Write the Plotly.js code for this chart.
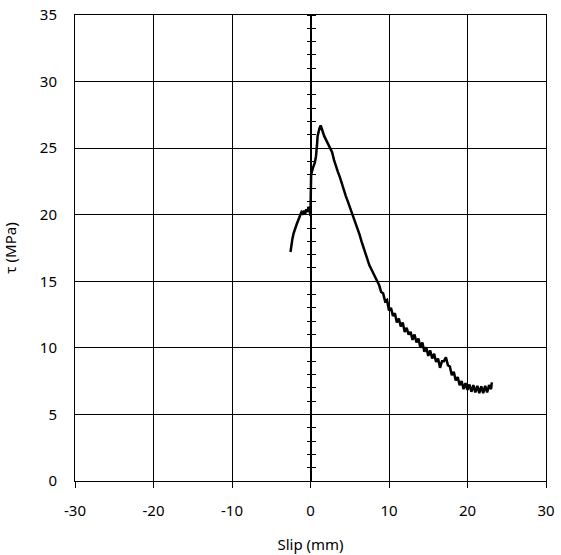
<!DOCTYPE html>
<html>
<head>
<meta charset="utf-8">
<script src="https://cdn.plot.ly/plotly-3.0.1.min.js"></script>
<style>html,body{margin:0;padding:0;background:#fff;}#chart{width:561px;height:555px;}</style>
</head>
<body>
<div id="chart"></div>
<script>
// Slip (mm) and bond stress tau (MPa)
const slip = [
  -2.55,-2.45,-2.3,-2.15,-1.95,-1.75,-1.55,-1.35,-1.15,-1.0,-0.85,-0.7,-0.55,-0.4,-0.25,-0.1,0.0,
  0.02,0.04,0.08,0.3,0.55,0.7,0.8,0.85,0.9,1.0,1.15,1.3,1.4,1.5,
  1.75,2.0,2.25,2.5,2.75,3.0,3.25,3.5,3.75,4.0,4.25,4.5,4.75,5.0,5.25,5.5,5.75,6.0,6.25,6.5,6.75,
  7.0,7.25,7.5,7.75,8.0,8.25,8.5,8.75,9.0,9.25,9.5,9.75,10.0,10.25,10.5,10.75,11.0,11.25,11.5,11.75,
  12.0,12.25,12.5,12.75,13.0,13.25,13.5,13.75,14.0,14.25,14.5,14.75,15.0,15.25,15.5,15.75,16.0,16.25,
  16.5,16.75,17.0,17.25,17.5,17.75,18.0,18.25,18.5,18.75,19.0,19.25,19.5,19.75,20.0,20.25,20.5,20.75,
  21.0,21.25,21.5,21.75,22.0,22.25,22.5,22.75,23.0,23.1
];
const tau = [
  17.2,17.7,18.2,18.6,19.0,19.3,19.6,19.9,20.2,20.1,20.3,20.0,20.4,20.2,20.6,20.3,19.9,
  21.0,22.0,23.0,23.5,23.9,24.4,24.9,25.4,25.9,26.2,26.5,26.7,26.5,26.3,
  25.9,25.6,25.3,25.0,24.7,24.1,23.6,23.2,22.8,22.3,21.9,21.4,21.0,20.6,20.2,19.8,19.3,18.9,18.5,18.0,17.5,
  17.1,16.7,16.2,15.9,15.6,15.2,14.9,14.7,14.2,14.1,13.5,13.6,12.8,13.0,12.4,12.6,11.9,12.2,11.6,11.9,
  11.2,11.5,11.0,11.2,10.6,11.0,10.4,10.7,10.0,10.4,9.7,10.05,9.4,9.8,9.2,9.55,8.95,9.2,
  8.5,9.0,9.0,9.3,8.7,8.6,7.95,8.2,7.55,7.8,7.2,7.5,6.9,7.35,6.85,7.25,6.7,7.2,
  6.65,7.15,6.6,7.1,6.6,7.15,6.65,7.2,6.9,7.4
];
const xTicks = [-30,-20,-10,0,10,20,30];
const yTicks = [0,5,10,15,20,25,30,35];

const font = {family: "Noto Sans, DejaVu Sans, sans-serif", size: 15, color: "#000"};

// hidden carrier traces so the zero-slip axes (y2, y3) are drawn
const carrier = (ax) => ({
  x: slip, y: tau, yaxis: ax, type: "scatter", mode: "lines",
  line: {color: "rgba(0,0,0,0)", width: 0}, hoverinfo: "skip", showlegend: false
});

const data = [
  carrier("y2"),
  carrier("y3"),
  {
    x: slip, y: tau, type: "scatter", mode: "lines",
    line: {color: "#000", width: 2.5}, hoverinfo: "skip", showlegend: false
  }
];

const layout = {
  width: 561, height: 555,
  margin: {l: 75, r: 15, t: 15, b: 74},
  paper_bgcolor: "#fff", plot_bgcolor: "#fff",
  font: font,
  showlegend: false,
  xaxis: {
    range: [-30, 30], tickvals: xTicks, ticktext: xTicks.map(String),
    showgrid: true, gridcolor: "#000", gridwidth: 1,
    zeroline: false, showline: true, linecolor: "#000", linewidth: 1, mirror: true,
    ticks: "outside", ticklen: 6, tickcolor: "#000", ticklabelstandoff: 10,
    title: {text: "Slip (mm)", font: font, standoff: 20},
    fixedrange: true
  },
  yaxis: {
    range: [0, 35], tickvals: yTicks, ticktext: yTicks.map(String),
    showgrid: true, gridcolor: "#000", gridwidth: 1,
    zeroline: false, showline: true, linecolor: "#000", linewidth: 1, mirror: true,
    ticks: "", ticklabelstandoff: 14,
    title: {text: "τ (MPa)", font: font, standoff: 20},
    fixedrange: true
  },
  yaxis2: {
    overlaying: "y", anchor: "free", position: 0.5, side: "left",
    range: [0, 35], dtick: 1, tick0: 0, ticks: "outside", ticklen: 4, tickcolor: "#000", tickwidth: 1,
    showticklabels: false, showgrid: false, zeroline: false,
    showline: true, linecolor: "#000", linewidth: 1.5, fixedrange: true
  },
  yaxis3: {
    overlaying: "y", anchor: "free", position: 0.5, side: "right",
    range: [0, 35], dtick: 1, tick0: 0, ticks: "outside", ticklen: 4, tickcolor: "#000", tickwidth: 1,
    showticklabels: false, showgrid: false, zeroline: false,
    showline: false, fixedrange: true
  }
};

Plotly.newPlot("chart", data, layout, {staticPlot: true, displayModeBar: false});
</script>
</body>
</html>
